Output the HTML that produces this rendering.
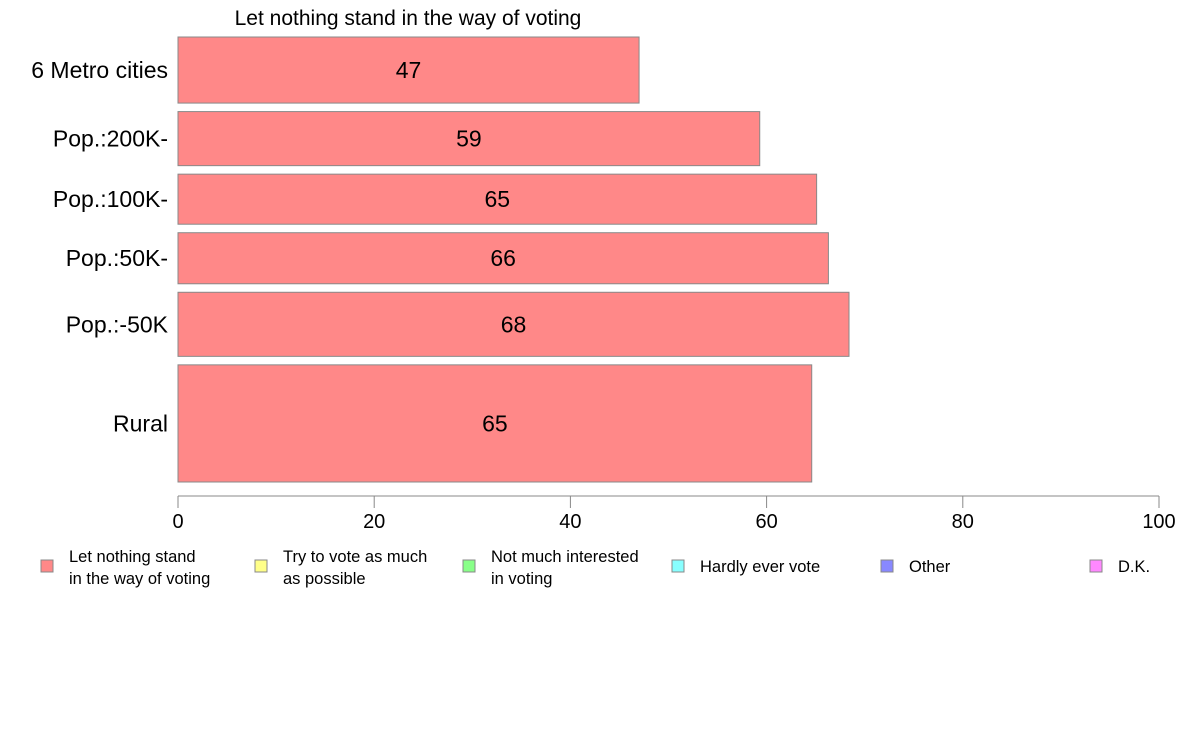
<!DOCTYPE html>
<html><head><meta charset="utf-8">
<style>
html,body{margin:0;padding:0;background:#fff;}
svg{display:block;font-family:"Liberation Sans",Arial,sans-serif;}
</style></head>
<body>
<svg id="chart" width="1188" height="736" viewBox="0 0 1188 736" xmlns="http://www.w3.org/2000/svg">
<text x="408" y="25" font-size="21" text-anchor="middle">Let nothing stand in the way of voting</text>
<g id="bars"></g>
<g id="axis"></g>
<g id="legend"></g>
</svg>
<script>
const categories = ["6 Metro cities","Pop.:200K-","Pop.:100K-","Pop.:50K-","Pop.:-50K","Rural"];
const values = [47.0, 59.3, 65.1, 66.3, 68.4, 64.6];
const rowWeights = [66, 54, 50, 51, 64, 117];
const tickValues = [0,20,40,60,80,100];
const legendLabels = [["Let nothing stand","in the way of voting"],["Try to vote as much","as possible"],["Not much interested","in voting"],["Hardly ever vote"],["Other"],["D.K."]];
const legendColors = ["#ff8888","#ffff88","#88ff88","#88ffff","#8888ff","#ff88ff"];

const NS="http://www.w3.org/2000/svg";
const x0=178, x1=1159, yTop=37, yBot=482, gap=8.5;
function xs(v){return x0+(x1-x0)*v/100;}
const totalW=rowWeights.reduce((a,b)=>a+b,0);
const avail=(yBot-yTop)-gap*(categories.length-1);
function mk(tag,attrs,parent){const e=document.createElementNS(NS,tag);for(const k in attrs)e.setAttribute(k,attrs[k]);parent.appendChild(e);return e;}
const bars=document.getElementById('bars');
let y=yTop;
categories.forEach((c,i)=>{
  const h=avail*rowWeights[i]/totalW;
  const r=mk('rect',{x:x0,y:y,width:xs(values[i])-x0,height:h,fill:'#ff8888',stroke:'#888','stroke-width':1},bars);
  
  
  const t=mk('text',{x:(x0+xs(values[i]))/2,y:y+h/2+8,'font-size':23,'text-anchor':'middle'},bars);
  t.textContent=Math.round(values[i]);
  
  
  const l=mk('text',{x:168,y:y+h/2+8,'font-size':23,'text-anchor':'end'},bars);
  l.textContent=c;
  
  
  y+=h+gap;
});
const ax=document.getElementById('axis');
const al=mk('line',{x1:x0,y1:496,x2:x1,y2:496,stroke:'#888','stroke-width':1},ax);


tickValues.forEach(v=>{
  const tk=mk('line',{x1:xs(v),y1:496,x2:xs(v),y2:508,stroke:'#888','stroke-width':1},ax);
  
  
  const tl=mk('text',{x:xs(v),y:528,'font-size':20,'text-anchor':'middle'},ax);
  tl.textContent=v;
  
  
});
const lg=document.getElementById('legend');
const lx=[35,249,457,666,875,1084];
legendLabels.forEach((lines,i)=>{
  const g=mk('g',{},lg);
  
  
  mk('rect',{x:lx[i]+6,y:560,width:12,height:12,fill:legendColors[i],stroke:'#888','stroke-width':1},g);
  lines.forEach((s,j)=>{
    const t=mk('text',{x:lx[i]+34,y:(lines.length===1?572:562)+j*22,'font-size':16.5},g);
    t.textContent=s;
  });
});
</script>
</body></html>
